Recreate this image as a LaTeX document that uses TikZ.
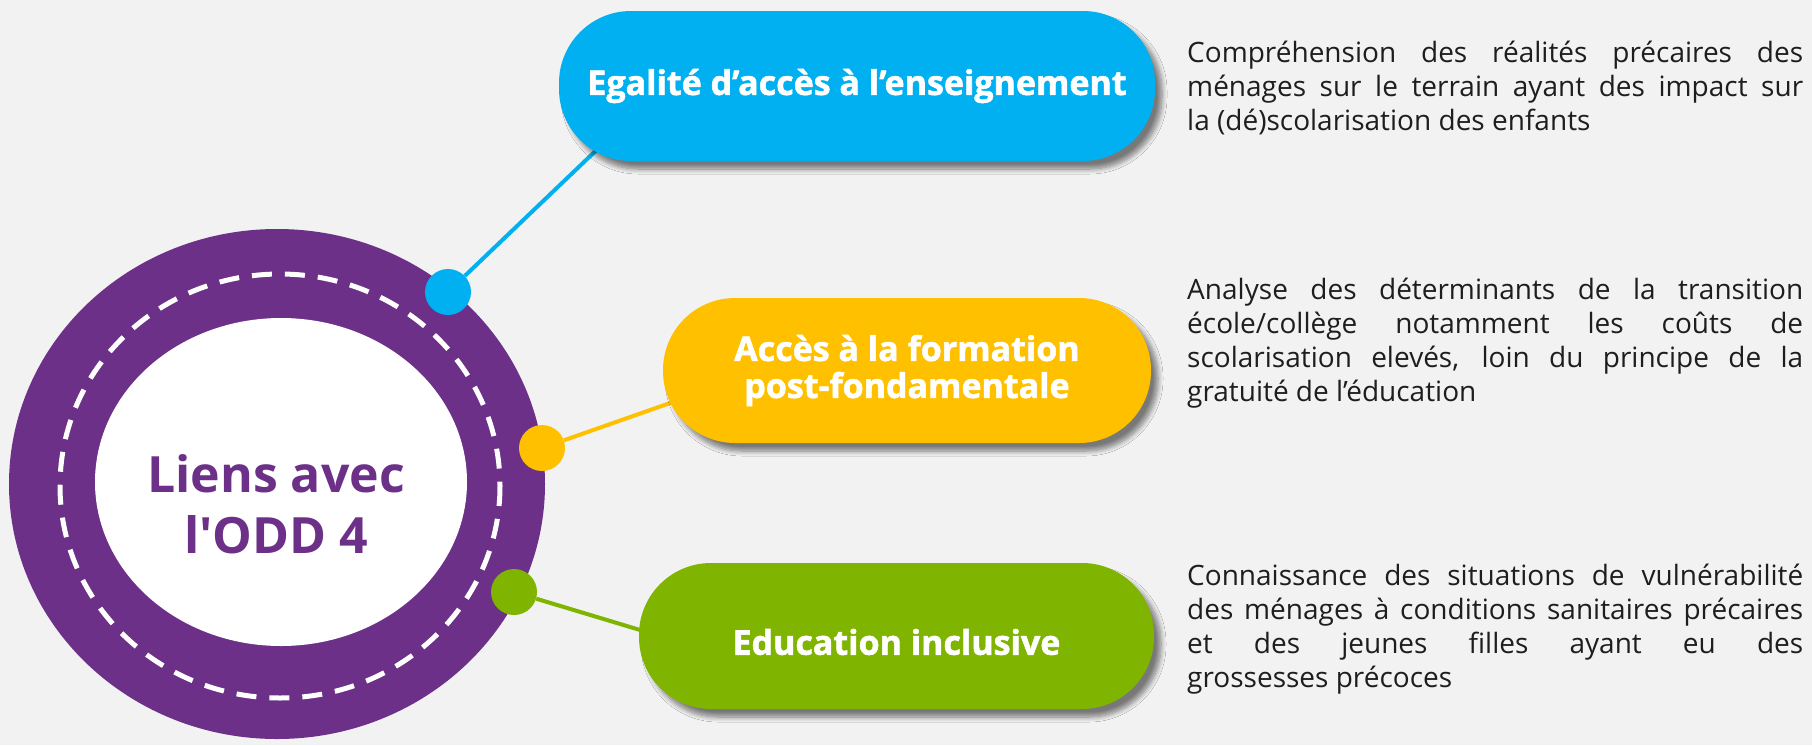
\documentclass[tikz,border=0pt]{standalone}
\usepackage{fontspec}
\usepackage{tikz}
\usetikzlibrary{positioning,calc}
\usetikzlibrary{shadows.blur}
\setmainfont{Open Sans}
\newfontfamily\descface{Open Sans}
\newfontfamily\pillface{Open Sans}[BoldFeatures={FakeBold=1.6}]
\newfontfamily\hubface{Open Sans}
\definecolor{bggray}{RGB}{242, 242, 242}
\definecolor{hubpurple}{RGB}{108, 48, 136}
\definecolor{eqblue}{RGB}{0, 176, 240}
\definecolor{accyellow}{RGB}{255, 192, 0}
\definecolor{incgreen}{RGB}{127, 180, 0}
\definecolor{textgray}{RGB}{30, 30, 30}
\newcommand{\jline}[1]{\makebox[\linewidth][s]{#1}}

\begin{document}
\begin{tikzpicture}[x=1pt,y=-1pt,
	pill/.style={rectangle,rounded corners=72pt,inner sep=0pt,align=center,text=white,font=\pillface\bfseries\fontsize{34}{37}\selectfont,
		blur shadow={shadow xshift=7pt,shadow yshift=-8pt,shadow blur steps=8,shadow blur radius=5pt,shadow opacity=50}},
	dot/.style={circle,inner sep=0pt,minimum size=46pt},
	link/.style={line width=4pt},
	desc/.style={anchor=base west,inner sep=0pt,text=textgray,font=\descface\fontsize{28}{34}\selectfont}]
	\path[use as bounding box,fill=bggray] (0,0) rectangle (1812,745);

	% hub rings
	\fill[hubpurple] (277,484) ellipse [x radius=268,y radius=255];
	\draw[white,line width=5pt,dash pattern=on 20pt off 13pt] (280,486) ellipse [x radius=220,y radius=212];
	\fill[white] (281,482) ellipse [x radius=186,y radius=164];
	\node[font=\hubface\bfseries\fontsize{50}{61}\selectfont,text=hubpurple,align=center] (hub) at(276,504) {Liens avec\\l'ODD 4};

	\node[dot,fill=eqblue] (bdot) at(448,292) {};
	\node[dot,fill=accyellow] (ydot) at(542,448) {};
	\node[dot,fill=incgreen] (gdot) at(514,592) {};

	\coordinate (bjoin) at(607,140);
	\coordinate (yjoin) at(690,396);
	\coordinate (gjoin) at(660,636);
	\draw[link,eqblue] (bdot) -- (bjoin);
	\draw[link,accyellow] (ydot) -- (yjoin);
	\draw[link,incgreen] (gdot) -- (gjoin);

	\node[pill,fill=eqblue,minimum width=596pt,minimum height=150pt] (egal) at(857,86) {Egalité d’accès à l’enseignement};
	\node[pill,fill=accyellow,minimum width=488pt,minimum height=145pt] (acces) at(907,370.5) {Accès à la formation\\post-fondamentale};
	\node[pill,fill=incgreen,minimum width=515pt,minimum height=146pt] (incl) at(896.5,636) {\raisebox{-6pt}[\height][\depth]{Education inclusive}};

	\node[desc] (egaltxt) at(1187,62) {\parbox[t]{616pt}{\jline{Compréhension des réalités précaires des}\\\jline{ménages sur le terrain ayant des impact sur}\\la (dé)scolarisation des enfants}};
	\node[desc] (accestxt) at(1187,299) {\parbox[t]{616pt}{\jline{Analyse des déterminants de la transition}\\\jline{école/collège notamment les coûts de}\\\jline{scolarisation elevés, loin du principe de la}\\gratuité de l’éducation}};
	\node[desc] (incltxt) at(1187,585) {\parbox[t]{616pt}{\jline{Connaissance des situations de vulnérabilité}\\\jline{des ménages à conditions sanitaires précaires}\\\jline{et des jeunes filles ayant eu des}\\grossesses précoces}};
\end{tikzpicture}
\end{document}
